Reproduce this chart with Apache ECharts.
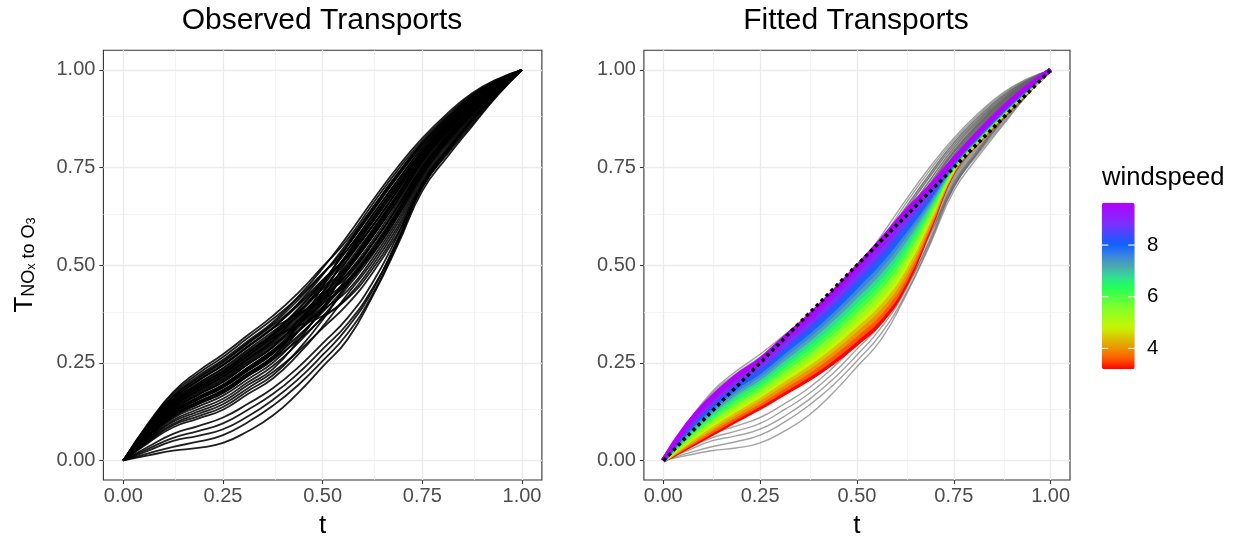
<!DOCTYPE html>
<html><head><meta charset="utf-8">
<script src="https://cdn.jsdelivr.net/npm/echarts@6/dist/echarts.min.js"></script>
<style>html,body{margin:0;padding:0;background:#fff}#c{width:1242px;height:544px}</style>
</head><body><div id="c"></div>
<script>
// ---------------- data ----------------
const tGrid = [0, 0.0625, 0.125, 0.1875, 0.25, 0.3125, 0.375, 0.4375, 0.5, 0.5625, 0.625, 0.6875, 0.75, 0.8125, 0.875, 0.9375, 1];
const majorTicks = [0, 0.25, 0.5, 0.75, 1];
const minorTicks = [0.125, 0.375, 0.625, 0.875];
const diagT = [0, 1];
const diagY = [0, 1];

// observed transports (one array per curve, values at tGrid)
const obs01 = [0,.095,.175,.228,.272,.321,.37,.428,.496,.566,.656,.742,.819,.883,.937,.974,1];
const obs02 = [0,.093,.171,.222,.265,.314,.362,.416,.479,.54,.628,.716,.80,.868,.926,.969,1];
const obs03 = [0,.09,.166,.216,.258,.306,.354,.418,.492,.575,.665,.75,.825,.888,.94,.976,1];
const obs04 = [0,.088,.162,.21,.251,.299,.346,.399,.462,.523,.61,.699,.788,.859,.919,.966,1];
const obs05 = [0,.085,.157,.204,.244,.291,.338,.401,.475,.558,.647,.733,.813,.878,.933,.972,1];
const obs06 = [0,.083,.153,.198,.237,.284,.33,.38,.44,.496,.582,.674,.769,.844,.909,.96,1];
const obs07 = [0,.08,.148,.192,.229,.276,.322,.385,.458,.54,.628,.716,.80,.868,.926,.969,1];
const obs08 = [0,.08,.148,.192,.229,.276,.322,.369,.424,.47,.554,.648,.75,.829,.898,.955,1];
const obs09 = [0,.078,.144,.186,.222,.268,.314,.373,.441,.514,.6,.691,.781,.854,.916,.964,1];
const obs10 = [0,.075,.139,.18,.215,.26,.306,.375,.453,.549,.637,.725,.806,.873,.93,.971,1];
const obs11 = [0,.075,.139,.18,.215,.26,.306,.36,.424,.488,.573,.665,.763,.839,.905,.959,1];
const obs12 = [0,.073,.135,.174,.208,.253,.298,.346,.402,.453,.536,.631,.738,.82,.891,.952,1];
const obs13 = [0,.07,.13,.168,.201,.246,.29,.356,.432,.523,.61,.699,.788,.859,.919,.966,1];
const obs14 = [0,.07,.13,.168,.201,.246,.29,.346,.411,.479,.563,.657,.756,.834,.902,.957,1];
const obs15 = [0,.068,.126,.162,.194,.238,.282,.346,.419,.505,.591,.682,.775,.849,.912,.962,1];
const obs16 = [0,.068,.126,.162,.194,.238,.282,.33,.385,.435,.517,.614,.725,.81,.884,.948,1];
const obs17 = [0,.065,.121,.156,.187,.23,.274,.345,.428,.531,.619,.708,.794,.864,.923,.968,1];
const obs18 = [0,.065,.121,.156,.187,.23,.274,.33,.394,.461,.545,.64,.744,.825,.895,.954,1];
const obs19 = [0,.063,.117,.15,.18,.223,.266,.329,.402,.488,.573,.665,.763,.839,.905,.959,1];
const obs20 = [0,.06,.112,.144,.173,.216,.258,.307,.364,.418,.499,.597,.713,.80,.877,.945,1];
const obs21 = [0,.06,.112,.144,.173,.216,.258,.329,.411,.514,.6,.691,.781,.854,.916,.964,1];
const obs22 = [0,.058,.108,.138,.166,.208,.25,.313,.385,.47,.554,.648,.75,.829,.898,.955,1];
const obs23 = [0,.055,.103,.131,.158,.20,.242,.30,.368,.444,.526,.623,.731,.815,.888,.95,1];
const obs24 = [0,.053,.099,.125,.151,.193,.234,.305,.39,.496,.582,.674,.769,.844,.909,.96,1];
const obs25 = [0,.05,.094,.119,.144,.185,.226,.278,.339,.40,.48,.58,.70,.79,.87,.941,1];
const obs26 = [0,.048,.09,.113,.137,.178,.218,.282,.36,.453,.536,.631,.738,.82,.891,.952,1];
const obs27 = [0,.045,.085,.107,.13,.17,.21,.27,.343,.426,.508,.606,.719,.805,.881,.947,1];
const obs28 = [0,.085,.157,.204,.244,.291,.338,.374,.41,.46,.53,.623,.731,.815,.888,.95,1];
const obs29 = [0,.063,.117,.15,.18,.223,.266,.345,.445,.552,.645,.733,.813,.878,.933,.972,1];
const obs30 = [0,.078,.144,.186,.222,.268,.314,.344,.37,.415,.49,.589,.706,.795,.874,.943,1];
const obs31 = [0,.013,.025,.032,.045,.075,.115,.172,.24,.31,.42,.55,.69,.777,.856,.933,1];
const obs32 = [0,.018,.035,.048,.065,.098,.14,.192,.255,.325,.425,.555,.70,.784,.86,.935,1];
const obs33 = [0,.025,.05,.063,.08,.113,.155,.207,.27,.34,.435,.565,.705,.789,.865,.937,1];
const obs34 = [0,.03,.058,.075,.095,.13,.17,.222,.285,.35,.44,.56,.70,.789,.87,.94,1];
const obs35 = [0,.035,.068,.088,.11,.145,.185,.237,.30,.365,.455,.575,.71,.795,.872,.941,1];
const obs36 = [0,.089,.164,.212,.254,.302,.35,.41,.478,.55,.64,.727,.808,.872,.93,.97,1];
const obs37 = [0,.082,.151,.196,.234,.28,.326,.387,.455,.528,.614,.702,.79,.862,.922,.967,1];
const obs38 = [0,.077,.142,.183,.219,.264,.31,.366,.43,.5,.588,.68,.775,.85,.913,.962,1];
const obs39 = [0,.072,.133,.171,.205,.25,.294,.352,.42,.496,.585,.678,.772,.848,.912,.962,1];
const obs40 = [0,.067,.124,.16,.191,.234,.278,.338,.41,.49,.578,.672,.768,.845,.91,.96,1];
const obs41 = [0,.086,.158,.205,.246,.293,.34,.395,.458,.522,.6,.69,.782,.856,.918,.964,1];
const obs42 = [0,.079,.146,.189,.226,.272,.318,.378,.447,.53,.62,.708,.792,.86,.922,.966,1];
const obs43 = [0,.062,.115,.147,.177,.219,.262,.318,.38,.45,.535,.632,.74,.823,.893,.953,1];
const obs44 = [0,.074,.137,.177,.212,.257,.302,.356,.416,.477,.556,.65,.752,.832,.9,.956,1];
const obs45 = [0,.066,.122,.158,.19,.233,.276,.33,.39,.458,.54,.638,.746,.828,.897,.955,1];
const observed = [obs01,obs02,obs03,obs04,obs05,obs06,obs07,obs08,obs09,obs10,obs11,obs12,obs13,obs14,obs15,
  obs16,obs17,obs18,obs19,obs20,obs21,obs22,obs23,obs24,obs25,obs26,obs27,obs28,obs29,obs30,
  obs31,obs32,obs33,obs34,obs35,obs36,obs37,obs38,obs39,obs40,obs41,obs42,obs43,obs44,obs45];

// fitted transports, one array per windspeed (values at tGrid)
const windspeeds = [3.2, 3.6, 4.0, 4.4, 4.8, 5.2, 5.6, 6.0, 6.4, 6.8, 7.2, 7.6, 8.0, 8.4, 8.8, 9.2, 9.6];
const fit32 = [0,.034,.068,.102,.136,.172,.208,.25,.300,.356,.449,.593,.742,.815,.880,.942,1];
const fit36 = [0,.038,.074,.109,.144,.181,.218,.261,.312,.369,.461,.600,.744,.816,.881,.943,1];
const fit40 = [0,.041,.080,.116,.151,.190,.228,.273,.325,.382,.472,.606,.746,.818,.883,.944,1];
const fit44 = [0,.045,.085,.123,.159,.199,.238,.284,.337,.395,.484,.613,.747,.819,.884,.944,1];
const fit48 = [0,.049,.091,.130,.167,.208,.248,.295,.349,.408,.496,.620,.749,.821,.885,.945,1];
const fit52 = [0,.052,.097,.137,.174,.216,.258,.306,.361,.421,.507,.626,.751,.822,.886,.946,1];
const fit56 = [0,.056,.103,.144,.182,.225,.268,.318,.374,.434,.519,.633,.753,.824,.888,.947,1];
const fit60 = [0,.060,.109,.151,.189,.234,.278,.329,.386,.447,.531,.640,.755,.825,.889,.948,1];
const fit64 = [0,.064,.115,.159,.197,.243,.289,.340,.398,.460,.543,.647,.757,.827,.890,.949,1];
const fit68 = [0,.067,.120,.166,.205,.252,.299,.351,.410,.473,.554,.653,.758,.828,.891,.949,1];
const fit72 = [0,.071,.126,.173,.212,.261,.309,.363,.423,.486,.566,.660,.760,.829,.893,.950,1];
const fit76 = [0,.075,.132,.180,.220,.270,.319,.374,.435,.499,.578,.667,.762,.831,.894,.951,1];
const fit80 = [0,.078,.138,.187,.228,.279,.329,.385,.447,.512,.589,.673,.764,.832,.895,.952,1];
const fit84 = [0,.082,.144,.194,.235,.287,.339,.396,.459,.525,.601,.680,.766,.834,.896,.953,1];
const fit88 = [0,.086,.149,.201,.243,.296,.349,.408,.472,.538,.613,.687,.767,.835,.898,.953,1];
const fit92 = [0,.089,.155,.208,.250,.305,.359,.419,.484,.551,.624,.693,.769,.837,.899,.954,1];
const fit96 = [0,.093,.161,.215,.258,.314,.369,.430,.496,.564,.636,.700,.771,.838,.900,.955,1];
const fitted = [fit32,fit36,fit40,fit44,fit48,fit52,fit56,fit60,fit64,fit68,fit72,fit76,fit80,fit84,fit88,fit92,fit96];

// colour bar
const wsMin = 3.19, wsMax = 9.64;
const legendTicks = [4, 6, 8];
const wsStops = [3.19, 3.6, 4.0, 4.4, 4.8, 5.6, 6.42, 6.8, 7.2, 7.6, 8.03, 8.8, 9.64];
const colorStops = ['#FF0000','#FF5A00','#EE9200','#D9C300','#C8F500','#7DFF2C','#1EFF5C','#35D89A','#4AA6AE','#3A84E4','#1060FF','#7A30FF','#B400FF'];

// ---------------- chart ----------------
const FONT = '"Liberation Sans", Arial, Helvetica, sans-serif';
function hexToRgb(h){ return [parseInt(h.slice(1,3),16), parseInt(h.slice(3,5),16), parseInt(h.slice(5,7),16)]; }
function colorAt(v){
  if (v <= wsStops[0]) return colorStops[0];
  for (let i = 1; i < wsStops.length; i++) {
    if (v <= wsStops[i]) {
      const f = (v - wsStops[i-1]) / (wsStops[i] - wsStops[i-1]);
      const a = hexToRgb(colorStops[i-1]), b = hexToRgb(colorStops[i]);
      const c = a.map((x, k) => Math.round(x + (b[k] - x) * f));
      return 'rgb(' + c.join(',') + ')';
    }
  }
  return colorStops[colorStops.length - 1];
}
const toPairs = arr => tGrid.map((t, i) => [t, arr[i]]);

const gridBox = [
  {left: 103.4, top: 50.3, width: 438.5, height: 432.7},
  {left: 643.9, top: 50.3, width: 426.1, height: 432.7}
];

function xAxisFor(i){
  return {type:'value', gridIndex:i, min:-0.05, max:1.05,
    name:'t', nameLocation:'middle', nameGap:33,
    nameTextStyle:{fontSize:26, color:'#000', fontFamily:FONT},
    axisLine:{show:false, onZero:false},
    axisTick:{show:true, customValues:majorTicks, length:4, lineStyle:{color:'#333', width:1.1}},
    axisLabel:{customValues:majorTicks, formatter:v=>Number(v).toFixed(2), fontSize:20, color:'#4D4D4D', margin:6, fontFamily:FONT},
    splitLine:{show:false}};
}
function yAxisFor(i){
  return {type:'value', gridIndex:i, min:-0.05, max:1.05,
    axisLine:{show:false, onZero:false},
    axisTick:{show:true, customValues:majorTicks, length:4, lineStyle:{color:'#333', width:1.1}},
    axisLabel:{customValues:majorTicks, formatter:v=>Number(v).toFixed(2), fontSize:20, color:'#4D4D4D', margin:8, fontFamily:FONT},
    splitLine:{show:false}};
}
function gridLines(i){
  const items = [];
  majorTicks.forEach(v => { items.push({xAxis:v, lineStyle:{color:'#EBEBEB', width:1.3, type:'solid'}}); items.push({yAxis:v, lineStyle:{color:'#EBEBEB', width:1.3, type:'solid'}}); });
  minorTicks.forEach(v => { items.push({xAxis:v, lineStyle:{color:'#EFEFEF', width:0.7, type:'solid'}}); items.push({yAxis:v, lineStyle:{color:'#EFEFEF', width:0.7, type:'solid'}}); });
  return {type:'line', xAxisIndex:i, yAxisIndex:i, data:[[0,0]], symbol:'none', silent:true, z:1,
    lineStyle:{opacity:0},
    markLine:{z:1, zlevel:0, silent:true, symbol:['none','none'], label:{show:false}, emphasis:{disabled:true}, animation:false, data:items}};
}

const series = [gridLines(0), gridLines(1)];
observed.forEach(c => series.push({type:'line', xAxisIndex:0, yAxisIndex:0, data:toPairs(c), symbol:'none', smooth:0.5, silent:true, z:3,
  lineStyle:{color:'rgba(0,0,0,0.88)', width:1.8}}));
observed.forEach(c => series.push({type:'line', xAxisIndex:1, yAxisIndex:1, data:toPairs(c), symbol:'none', smooth:0.5, silent:true, z:3,
  lineStyle:{color:'rgba(100,100,100,0.6)', width:1.4}}));
fitted.forEach((c, k) => series.push({type:'line', xAxisIndex:1, yAxisIndex:1, data:toPairs(c), symbol:'none', smooth:0.5, silent:true, z:4,
  lineStyle:{color:colorAt(windspeeds[k]), width:4.5}}));
series.push({type:'line', xAxisIndex:1, yAxisIndex:1, data:diagT.map((t,i)=>[t, diagY[i]]), symbol:'none', silent:true, z:5,
  lineStyle:{color:'#000', width:3.5, type:[3.5,3.5]}});

const nSamples = 40;
const barColors = [];
for (let i = 0; i < nSamples; i++) barColors.push(colorAt(wsMin + (wsMax - wsMin) * i / (nSamples - 1)));

const barLeft = 1101.7, barTop = 202.7, barW = 33, barH = 166.6;
const yOfWs = v => barTop + (wsMax - v) / (wsMax - wsMin) * barH;

const graphics = [
  {type:'text', x:322, y:21, style:{text:'Observed Transports', fontSize:30, fontFamily:FONT, fill:'#000', align:'center', verticalAlign:'middle', textAlign:'center', textVerticalAlign:'middle'}},
  {type:'text', x:856, y:21, style:{text:'Fitted Transports', fontSize:30, fontFamily:FONT, fill:'#000', align:'center', verticalAlign:'middle', textAlign:'center', textVerticalAlign:'middle'}},
  {type:'text', x:23, y:265, rotation:Math.PI/2, style:{
    text:'{a|T}{b|NO}{c|x}{b| to O}{c|3}', fontFamily:FONT, fill:'#000', align:'center', verticalAlign:'middle', textAlign:'center', textVerticalAlign:'middle',
    rich:{
      a:{fontSize:26, lineHeight:30, verticalAlign:'bottom', fontFamily:FONT, fill:'#000', color:'#000'},
      b:{fontSize:18, lineHeight:21, verticalAlign:'bottom', fontFamily:FONT, fill:'#000', color:'#000'},
      c:{fontSize:12.6, lineHeight:11, verticalAlign:'bottom', fontFamily:FONT, fill:'#000', color:'#000'}
    }}},
  {type:'text', x:1102, y:178, style:{text:'windspeed', fontSize:25.6, fontFamily:FONT, fill:'#000', align:'left', verticalAlign:'middle', textAlign:'left', textVerticalAlign:'middle'}}
];
legendTicks.forEach(v => {
  const y = yOfWs(v);
  graphics.push({type:'line', z:100, shape:{x1:barLeft, y1:y, x2:barLeft+6.6, y2:y}, style:{stroke:'#fff', lineWidth:1.1}});
  graphics.push({type:'line', z:100, shape:{x1:barLeft+barW-6.6, y1:y, x2:barLeft+barW, y2:y}, style:{stroke:'#fff', lineWidth:1.1}});
  graphics.push({type:'text', x:1147, y:y, style:{text:String(v), fontSize:20.5, fontFamily:FONT, fill:'#000', align:'left', verticalAlign:'middle', textAlign:'left', textVerticalAlign:'middle'}});
});

const chart = echarts.init(document.getElementById('c'), null, {renderer:'canvas'});
chart.setOption({
  animation:false,
  backgroundColor:'#fff',
  grid: gridBox.map(g => Object.assign({show:true, borderColor:'#333', borderWidth:1.1, backgroundColor:'#fff', containLabel:false}, g)),
  xAxis:[xAxisFor(0), xAxisFor(1)],
  yAxis:[yAxisFor(0), yAxisFor(1)],
  visualMap:{type:'continuous', min:wsMin, max:wsMax, seriesIndex:[], left:barLeft, top:barTop, itemWidth:barW, itemHeight:barH,
    padding:0, calculable:false, hoverLink:false, text:null, inRange:{color:barColors}, z:50},
  series: series,
  graphic: graphics
});
</script></body></html>
